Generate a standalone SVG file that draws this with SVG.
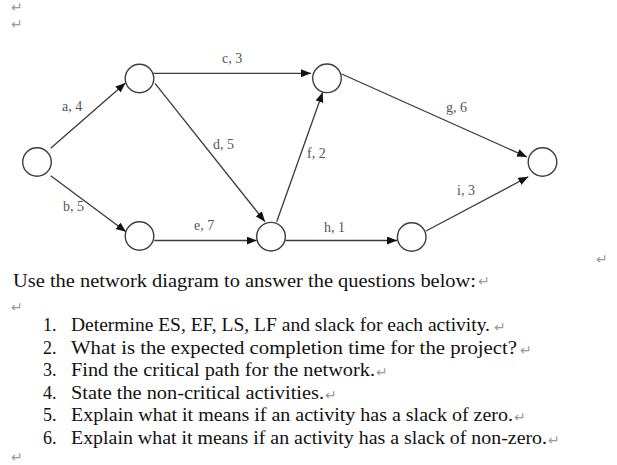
<svg xmlns="http://www.w3.org/2000/svg" width="617" height="465" viewBox="0 0 617 465">
<defs>
<style>
.node{fill:#fff;stroke:#3c3c3c;stroke-width:1.4}
.edge{stroke:#3a3a3a;stroke-width:1.3;fill:none;marker-end:url(#arr)}
.lbl{font-family:"Liberation Serif","Times New Roman",serif;font-size:14px;fill:#555}
.body{font-family:"Liberation Serif","Times New Roman",serif;font-size:18px;fill:#111}
.pm{font-family:"DejaVu Sans",sans-serif;font-size:14px;fill:#9a9a9a}
</style>
<marker id="arr" markerUnits="userSpaceOnUse" markerWidth="11" markerHeight="9" refX="10" refY="4" orient="auto">
<path d="M0,0 L10,4 L0,8 z" fill="#111"/>
</marker>
</defs>
<rect width="617" height="465" fill="#fff"/>
<g id="marks">
<text class="pm" x="11" y="12">↵</text>
<text class="pm" x="11" y="29">↵</text>
<text class="pm" x="596" y="264">↵</text>
</g>
<g id="connectors">
<line id="e-a" class="edge" x1="50.7" y1="148.3" x2="125.5" y2="83"/>
<line id="e-b" class="edge" x1="50.7" y1="175.7" x2="126" y2="231.7"/>
<line id="e-c" class="edge" x1="153.3" y1="73.3" x2="311" y2="73.3"/>
<line id="e-d" class="edge" x1="155" y1="83.3" x2="265" y2="221.7"/>
<line id="e-e" class="edge" x1="154.3" y1="240.5" x2="256.7" y2="240.5"/>
<line id="e-f" class="edge" x1="276.7" y1="221.7" x2="322.7" y2="92.3"/>
<line id="e-g" class="edge" x1="341.7" y1="74" x2="527" y2="157"/>
<line id="e-h" class="edge" x1="285.5" y1="240.5" x2="397" y2="240.5"/>
<line id="e-i" class="edge" x1="426" y1="231" x2="528.3" y2="176.7"/>
<text class="lbl" x="222" y="63">c, 3</text>
<text class="lbl" x="62" y="111">a, 4</text>
<text class="lbl" x="213" y="149">d, 5</text>
<text class="lbl" x="63" y="211">b, 5</text>
<text class="lbl" x="194" y="230">e, 7</text>
<text class="lbl" x="446" y="112">g, 6</text>
<text class="lbl" x="307" y="158">f, 2</text>
<text class="lbl" x="457" y="195">i, 3</text>
<text class="lbl" x="324" y="232">h, 1</text>
</g>
<g id="n1"><circle class="node" cx="37" cy="162" r="14.3"/></g>
<g id="n2"><circle class="node" cx="139.5" cy="78.5" r="14.3"/></g>
<g id="n3"><circle class="node" cx="139.5" cy="236" r="14.3"/></g>
<g id="n4"><circle class="node" cx="271" cy="236.7" r="14.3"/></g>
<g id="n5"><circle class="node" cx="327" cy="78.3" r="14.3"/></g>
<g id="n6"><circle class="node" cx="411.7" cy="237" r="14.3"/></g>
<g id="n7"><circle class="node" cx="542.5" cy="162" r="14.3"/></g>
<g id="questions">
<text class="body" x="13" y="287" textLength="463" lengthAdjust="spacingAndGlyphs">Use the network diagram to answer the questions below:</text>
<text class="pm" x="478" y="286">↵</text>
<text class="pm" x="11" y="312">↵</text>
<text class="body" x="43" y="331">1.</text>
<text class="body" x="71" y="331" textLength="419" lengthAdjust="spacingAndGlyphs">Determine ES, EF, LS, LF and slack for each activity.</text>
<text class="pm" x="494" y="332">↵</text>
<text class="body" x="43" y="353.5">2.</text>
<text class="body" x="71" y="353.5" textLength="446" lengthAdjust="spacingAndGlyphs">What is the expected completion time for the project?</text>
<text class="pm" x="520" y="354.5">↵</text>
<text class="body" x="43" y="376">3.</text>
<text class="body" x="71" y="376" textLength="304" lengthAdjust="spacingAndGlyphs">Find the critical path for the network.</text>
<text class="pm" x="376" y="377">↵</text>
<text class="body" x="43" y="398.5">4.</text>
<text class="body" x="71" y="398.5" textLength="253" lengthAdjust="spacingAndGlyphs">State the non-critical activities.</text>
<text class="pm" x="325" y="399.5">↵</text>
<text class="body" x="43" y="421">5.</text>
<text class="body" x="71" y="421" textLength="442" lengthAdjust="spacingAndGlyphs">Explain what it means if an activity has a slack of zero.</text>
<text class="pm" x="514" y="422">↵</text>
<text class="body" x="43" y="443.5">6.</text>
<text class="body" x="71" y="443.5" textLength="476" lengthAdjust="spacingAndGlyphs">Explain what it means if an activity has a slack of non-zero.</text>
<text class="pm" x="548" y="444.5">↵</text>
<text class="pm" x="11" y="462">↵</text>
</g>
</svg>
